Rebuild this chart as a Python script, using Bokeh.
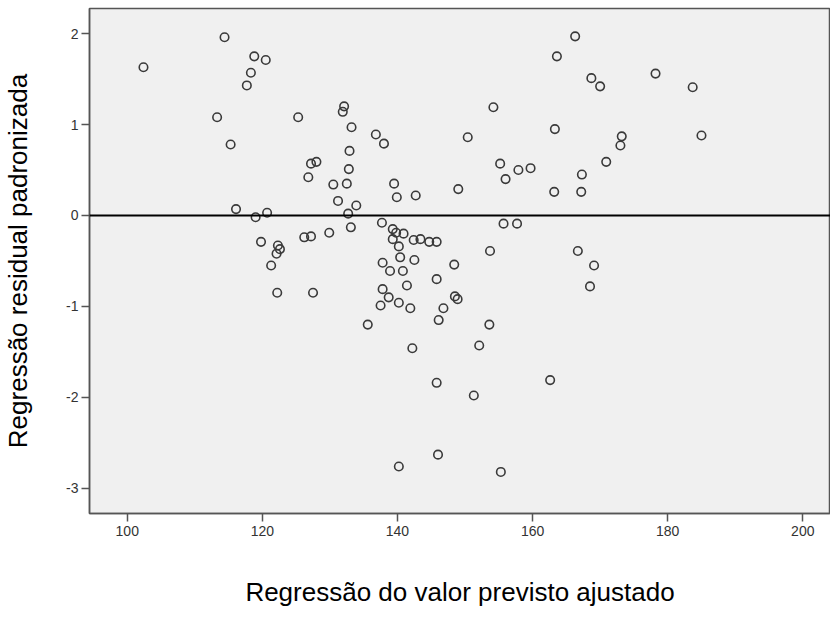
from bokeh.plotting import figure
from bokeh.models import Range1d, Span, FixedTicker, PrintfTickFormatter
from bokeh.embed import file_html
from bokeh.resources import INLINE

x_vals = [102.4, 113.3, 114.4, 115.3, 116.1, 117.7, 118.3, 118.8, 119.0, 119.8,
          120.5, 120.7, 121.3, 122.2, 122.3, 122.6, 122.1, 125.3, 126.2, 126.8,
          127.2, 127.2, 127.5, 128.0, 129.9, 130.5, 131.2, 131.9, 132.1, 132.5,
          132.7, 132.8, 132.9, 133.1, 133.2, 133.9, 135.6, 136.8, 137.5, 137.7,
          137.8, 137.8, 138.0, 138.7, 138.9, 139.3, 139.3, 139.5, 139.8, 139.9,
          140.2, 140.2, 140.2, 140.4, 140.8, 140.9, 141.4, 141.9, 142.2, 142.4,
          142.5, 142.7, 143.4, 144.7, 145.8, 145.8, 145.8, 146.0, 146.1, 146.8,
          148.4, 148.5, 148.9, 149.0, 150.4, 151.3, 152.1, 153.6, 153.7, 154.2,
          155.2, 155.3, 155.7, 156.0, 157.7, 157.9, 159.7, 162.6, 163.2, 163.3,
          163.6, 166.3, 166.7, 167.2, 167.3, 168.5, 168.7, 169.1, 170.0, 170.9,
          173.0, 173.2, 178.2, 183.7, 185.0]
y_vals = [1.63, 1.08, 1.96, 0.78, 0.07, 1.43, 1.57, 1.75, -0.02, -0.29,
          1.71, 0.03, -0.55, -0.85, -0.33, -0.37, -0.42, 1.08, -0.24, 0.42,
          0.57, -0.23, -0.85, 0.59, -0.19, 0.34, 0.16, 1.14, 1.20, 0.35,
          0.02, 0.51, 0.71, -0.13, 0.97, 0.11, -1.20, 0.89, -0.99, -0.08,
          -0.52, -0.81, 0.79, -0.90, -0.61, -0.15, -0.26, 0.35, -0.19, 0.20,
          -0.34, -0.96, -2.76, -0.46, -0.61, -0.20, -0.77, -1.02, -1.46, -0.27,
          -0.49, 0.22, -0.26, -0.29, -0.29, -0.70, -1.84, -2.63, -1.15, -1.02,
          -0.54, -0.89, -0.92, 0.29, 0.86, -1.98, -1.43, -1.20, -0.39, 1.19,
          0.57, -2.82, -0.09, 0.40, -0.09, 0.50, 0.52, -1.81, 0.26, 0.95,
          1.75, 1.97, -0.39, 0.26, 0.45, -0.78, 1.51, -0.55, 1.42, 0.59,
          0.77, 0.87, 1.56, 1.41, 0.88]

x_ticks = [100, 120, 140, 160, 180, 200]
y_ticks = [-3, -2, -1, 0, 1, 2]
x_title = "Regressão do valor previsto ajustado"
y_title = "Regressão residual padronizada"

FONT = "Liberation Sans"

p = figure(width=830, height=612,
           x_range=Range1d(94.41, 204.1), y_range=Range1d(-3.277, 2.276),
           output_backend="svg", toolbar_location=None,
           min_border_left=84, min_border_right=0, min_border_top=8, min_border_bottom=99)

p.background_fill_color = "#f0f0f0"
p.border_fill_color = "white"
p.outline_line_color = "#555555"
p.outline_line_width = 1.5
p.xgrid.visible = False
p.ygrid.visible = False

for ax in (p.xaxis[0], p.yaxis[0]):
    ax.axis_line_color = "#555555"
    ax.axis_line_width = 1.5
    ax.major_tick_line_color = "#555555"
    ax.major_tick_line_width = 1.5
    ax.major_tick_out = 8
    ax.major_tick_in = 0
    ax.minor_tick_line_color = None
    ax.major_label_text_font = FONT
    ax.major_label_text_font_size = "14px"
    ax.major_label_text_color = "#333333"
    ax.axis_label_text_font = FONT
    ax.axis_label_text_font_size = "26px"
    ax.axis_label_text_font_style = "normal"
    ax.axis_label_text_color = "black"
    ax.formatter = PrintfTickFormatter(format="%d")

p.xaxis[0].ticker = FixedTicker(ticks=x_ticks)
p.yaxis[0].ticker = FixedTicker(ticks=y_ticks)
p.xaxis[0].axis_label = x_title
p.yaxis[0].axis_label = y_title
p.xaxis[0].major_label_standoff = 4
p.yaxis[0].major_label_standoff = 3
p.xaxis[0].axis_label_standoff = 38
p.yaxis[0].axis_label_standoff = 30

p.add_layout(Span(location=0, dimension="width", line_color="black", line_width=2))

p.scatter(x_vals, y_vals, marker="circle", size=8.5, fill_color=None,
          line_color="#3a3a3a", line_width=1.6)

open("out.html", "w").write(file_html(p, INLINE))
